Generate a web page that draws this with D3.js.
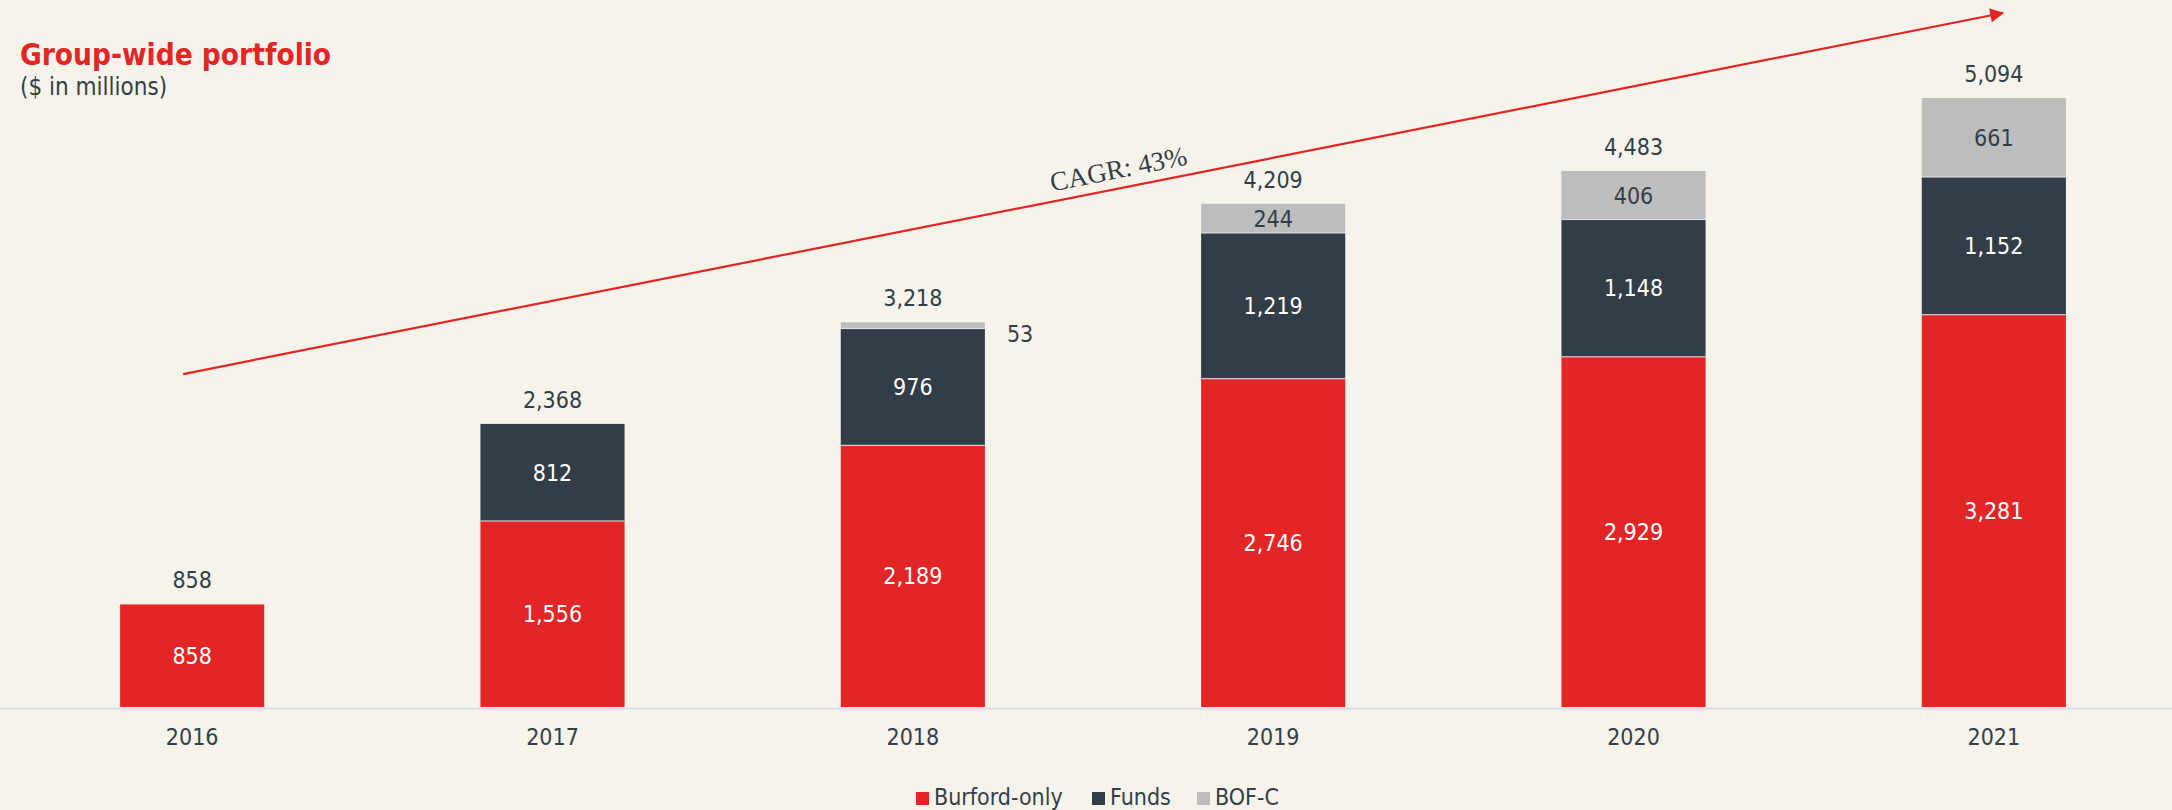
<!DOCTYPE html>
<html>
<head>
<meta charset="utf-8">
<script src="https://cdn.jsdelivr.net/npm/d3@7"></script>
<style>
  html, body { margin: 0; padding: 0; background: #F6F3EA; }
  svg { display: block; }
  .sans { font-family: "DejaVu Sans Condensed", "DejaVu Sans", sans-serif; font-stretch: condensed; }
</style>
</head>
<body>
<svg id="chart" width="2172" height="810"></svg>
<script>
// ---- data ----
const years = ["2016", "2017", "2018", "2019", "2020", "2021"];
const burfordOnly = [858, 1556, 2189, 2746, 2929, 3281];
const funds = [0, 812, 976, 1219, 1148, 1152];
const bofc = [0, 0, 53, 244, 406, 661];
const totals = [858, 2368, 3218, 4209, 4483, 5094];
const seriesNames = ["Burford-only", "Funds", "BOF-C"];
const cagrLabel = "CAGR: 43%";
// arrow annotation in data terms: [year, value]
const arrowStart = ["2016", 2785];
const arrowEnd = ["2021", 5805];

// ---- style ----
const W = 2172, H = 810;
const colors = ["#E32526", "#323D47", "#BDBDBD"];
const textDark = "#333F48";
const bg = "#F6F3EA";

const svg = d3.select("#chart");
svg.append("rect").attr("width", W).attr("height", H).attr("fill", bg);

const baseline = 707;
const x = d3.scaleBand().domain(years).range([12, 2174]).paddingInner(0.6).paddingOuter(0.3);
const y = d3.scaleLinear().domain([0, 5094]).range([baseline, 98]);

const table = years.map((yr, i) => ({ year: yr, "Burford-only": burfordOnly[i], "Funds": funds[i], "BOF-C": bofc[i], total: totals[i] }));
const stack = d3.stack().keys(seriesNames)(table);

// bars
const g = svg.append("g");
stack.forEach((layer, li) => {
  g.selectAll(null).data(layer.filter(d => d[1] - d[0] > 0)).enter().append("rect")
    .attr("x", d => x(d.data.year))
    .attr("width", x.bandwidth())
    .attr("y", d => y(d[1]))
    .attr("height", d => y(d[0]) - y(d[1]))
    .attr("fill", colors[li]);
});
// thin separators between segments
stack.slice(1).forEach(layer => {
  g.selectAll(null).data(layer.filter(d => d[1] - d[0] > 0)).enter().append("line")
    .attr("x1", d => x(d.data.year)).attr("x2", d => x(d.data.year) + x.bandwidth())
    .attr("y1", d => y(d[0])).attr("y2", d => y(d[0]))
    .attr("stroke", "#E6E6E6").attr("stroke-width", 1);
});

// segment labels
stack.forEach((layer, li) => {
  layer.forEach(d => {
    const v = d[1] - d[0];
    if (v <= 0) return;
    const h = y(d[0]) - y(d[1]);
    const inside = h > 15;
    svg.append("text").attr("class", "sans")
      .attr("x", inside ? x(d.data.year) + x.bandwidth() / 2 : x(d.data.year) + x.bandwidth() + 22)
      .attr("y", inside ? (y(d[0]) + y(d[1])) / 2 : (y(d[0]) + y(d[1])) / 2 + 8)
      .attr("dy", "0.36em")
      .attr("text-anchor", inside ? "middle" : "start")
      .attr("font-size", 23)
      .attr("fill", inside ? (li === 2 ? textDark : "#FFFFFF") : textDark)
      .text(d3.format(",")(v));
  });
});

// total labels
svg.selectAll(null).data(table).enter().append("text").attr("class", "sans")
  .attr("x", d => x(d.year) + x.bandwidth() / 2)
  .attr("y", d => y(d.total) - 16)
  .attr("text-anchor", "middle")
  .attr("font-size", 23)
  .attr("fill", textDark)
  .text(d => d3.format(",")(d.total));

// axis baseline
svg.append("line").attr("x1", 0).attr("x2", W).attr("y1", baseline + 1.5).attr("y2", baseline + 1.5)
  .attr("stroke", "#D8DEE5").attr("stroke-width", 2);

// x axis labels
const xAxis = svg.append("g").attr("transform", `translate(0,${baseline})`)
  .call(d3.axisBottom(x).tickSize(0).tickPadding(22));
xAxis.select(".domain").remove();
xAxis.selectAll("text").attr("class", "sans").attr("font-size", 23).attr("fill", textDark)
  .attr("font-family", null);

// arrow
const defs = svg.append("defs");
defs.append("marker").attr("id", "ah").attr("viewBox", "0 0 10 10").attr("refX", 9).attr("refY", 5)
  .attr("orient", "auto").attr("markerUnits", "userSpaceOnUse")
  .attr("markerWidth", 18).attr("markerHeight", 14)
  .append("path").attr("d", "M0,0 L10,5 L0,10 Z").attr("fill", "#E32526");
const ax1 = x(arrowStart[0]) + x.bandwidth() / 2 - 9, ay1 = y(arrowStart[1]);
const ax2 = x(arrowEnd[0]) + x.bandwidth() / 2 + 9, ay2 = y(arrowEnd[1]);
svg.append("line").attr("x1", ax1).attr("y1", ay1).attr("x2", ax2).attr("y2", ay2)
  .attr("stroke", "#E32526").attr("stroke-width", 2.2).attr("marker-end", "url(#ah)");

// CAGR label along arrow
const ang = Math.atan2(ay2 - ay1, ax2 - ax1) * 180 / Math.PI;
const t = 0.516;
const cx = ax1 + (ax2 - ax1) * t, cy = ay1 + (ay2 - ay1) * t;
svg.append("text")
  .attr("transform", `translate(${cx},${cy}) rotate(${ang}) translate(0,-10)`)
  .attr("text-anchor", "middle")
  .attr("font-family", "'Liberation Serif', 'DejaVu Serif', serif")
  .attr("font-size", 27)
  .attr("fill", textDark)
  .text(cagrLabel);

// title
svg.append("text").attr("class", "sans").attr("x", 20).attr("y", 65)
  .attr("font-size", 29.5).attr("font-weight", "bold").attr("fill", "#E32526")
  .text("Group-wide portfolio");
svg.append("text").attr("class", "sans").attr("x", 20).attr("y", 95)
  .attr("font-size", 24).attr("fill", textDark)
  .text("($ in millions)");

// legend
const legendX = [916, 1092, 1197];
const lg = svg.append("g");
seriesNames.forEach((name, i) => {
  lg.append("rect").attr("x", legendX[i]).attr("y", 792).attr("width", 13).attr("height", 13).attr("fill", colors[i]);
  lg.append("text").attr("class", "sans").attr("x", legendX[i] + 18).attr("y", 805)
    .attr("font-size", 23).attr("fill", textDark).text(name);
});
</script>
</body>
</html>
